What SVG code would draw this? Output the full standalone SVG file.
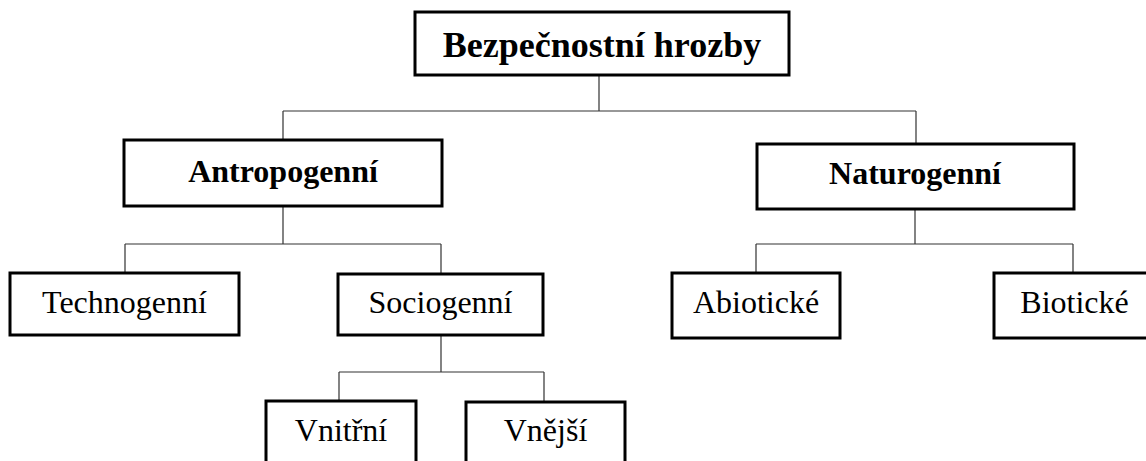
<svg xmlns="http://www.w3.org/2000/svg" width="1146" height="461" viewBox="0 0 1146 461">
<style>
.box{fill:#fff;stroke:#000;stroke-width:3}
.t{font-family:"Liberation Serif","Times New Roman",serif;font-size:32px;fill:#000;text-anchor:middle}
.b{font-weight:bold}
.c{stroke:#333;stroke-width:1.2;fill:none}
</style>
<rect width="1146" height="461" fill="#fff"/>
<g id="connectors">
<path class="c" d="M599,75V111M283,111H916M283,111V140M916,111V144"/>
<path class="c" d="M283,206V244M125,244H441M125,244V273M441,244V273"/>
<path class="c" d="M441,335V372M339,372H544M339,372V401M544,372V402"/>
<path class="c" d="M915,209V244M756,244H1073M756,244V273M1073,244V273"/>
</g>
<g id="n-root"><rect class="box" x="415" y="12" width="374" height="63"/><text class="t b" x="602" y="57" font-size="36" style="font-size:36px">Bezpečnostní hrozby</text></g>
<g id="n-antropogenni"><rect class="box" x="124" y="140" width="318" height="66"/><text class="t b" x="283" y="182">Antropogenní</text></g>
<g id="n-naturogenni"><rect class="box" x="757" y="144" width="317" height="65"/><text class="t b" x="915" y="184">Naturogenní</text></g>
<g id="n-technogenni"><rect class="box" x="10" y="273" width="229" height="62"/><text class="t" x="124.5" y="313">Technogenní</text></g>
<g id="n-sociogenni"><rect class="box" x="338" y="274" width="205" height="61"/><text class="t" x="440.5" y="313">Sociogenní</text></g>
<g id="n-abioticke"><rect class="box" x="672" y="273" width="168" height="65"/><text class="t" x="756" y="313">Abiotické</text></g>
<g id="n-bioticke"><rect class="box" x="994" y="273" width="162" height="65"/><text class="t" x="1074.5" y="313">Biotické</text></g>
<g id="n-vnitrni"><rect class="box" x="266" y="401" width="150" height="70"/><text class="t" x="341" y="441">Vnitřní</text></g>
<g id="n-vnejsi"><rect class="box" x="466" y="402" width="159" height="70"/><text class="t" x="545.5" y="441">Vnější</text></g>
</svg>
